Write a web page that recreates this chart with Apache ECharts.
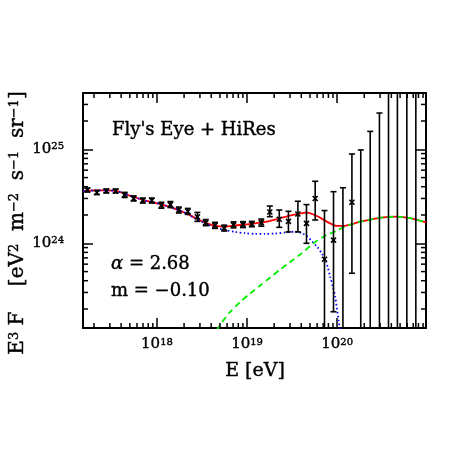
<!DOCTYPE html>
<html><head><meta charset="utf-8">
<script src="https://cdn.jsdelivr.net/npm/echarts@6/dist/echarts.min.js"></script>
<style>html,body{margin:0;padding:0;background:#fff}#c{width:452px;height:452px}</style>
</head><body><div id="c"></div>
<script>
// ---- data points (Fly's Eye + HiRes), E in eV, E^3 F in eV^2 m^-2 s^-1 sr^-1 ----
const energy = [1.69e17, 2.15e17, 2.74e17, 3.48e17, 4.38e17, 5.51e17, 6.97e17, 8.77e17, 1.12e18, 1.41e18,
  1.75e18, 2.20e18, 2.81e18, 3.48e18, 4.41e18, 5.58e18, 7.08e18, 9.02e18, 1.13e19, 1.44e19,
  1.79e19, 2.28e19, 2.88e19, 3.67e19, 4.57e19, 5.71e19, 7.24e19, 9.12e19, 1.16e20, 1.46e20,
  1.83e20, 2.33e20, 2.95e20, 3.72e20, 4.67e20, 5.94e20, 7.48e20];
const flux = [3.69e24, 3.47e24, 3.60e24, 3.60e24, 3.27e24, 3.00e24, 2.85e24, 2.85e24, 2.54e24, 2.58e24,
  2.26e24, 2.18e24, 1.91e24, 1.66e24, 1.55e24, 1.45e24, 1.57e24, 1.58e24, 1.60e24, 1.66e24,
  2.15e24, 1.80e24, 1.71e24, 2.05e24, 1.63e24, 3.00e24, 6.76e23, 1.08e24, null, 2.73e24,
  null, null, null, null, null, null, null];
const fluxLow = [3.51e24, 3.30e24, 3.43e24, 3.43e24, 3.07e24, 2.82e24, 2.68e24, 2.68e24, 2.36e24, 2.40e24,
  2.10e24, 2.03e24, 1.71e24, 1.54e24, 1.44e24, 1.35e24, 1.46e24, 1.47e24, 1.50e24, 1.52e24,
  1.92e24, 1.48e24, 1.32e24, 1.32e24, 1.00e24, 1.77e24, 1.0e23, 1.87e23, 1.0e23, 4.80e23,
  1.0e23, 1.0e23, 1.0e23, 1.0e23, 1.0e23, 1.0e23, 1.0e23];
const fluxHigh = [3.87e24, 3.64e24, 3.78e24, 3.78e24, 3.48e24, 3.19e24, 3.03e24, 3.03e24, 2.73e24, 2.78e24,
  2.43e24, 2.35e24, 2.13e24, 1.79e24, 1.67e24, 1.56e24, 1.69e24, 1.70e24, 1.71e24, 1.81e24,
  2.49e24, 2.26e24, 2.19e24, 2.80e24, 2.58e24, 4.57e24, 2.23e24, 3.54e24, 3.90e24, 8.91e24,
  9.84e24, 1.55e25, 2.43e25, 1.0e26, 1.0e26, 1.0e26, 1.0e26];

// ---- model curves ----
const totalE = [1.52e17, 2.07e17, 2.67e17, 3.45e17, 4.46e17, 5.75e17, 7.43e17, 9.59e17, 1.24e18, 1.60e18,
  2.07e18, 2.66e18, 3.44e18, 4.44e18, 5.73e18, 7.40e18, 9.55e18, 1.23e19, 1.59e19, 2.06e19,
  2.65e19, 3.58e19, 4.61e19, 5.96e19, 7.69e19, 9.93e19, 1.17e20, 1.40e20, 1.80e20, 2.33e20,
  3.27e20, 4.60e20, 6.46e20, 9.73e20];
const totalF = [3.60e24, 3.65e24, 3.65e24, 3.63e24, 3.34e24, 3.07e24, 2.85e24, 2.69e24, 2.52e24, 2.32e24,
  2.10e24, 1.86e24, 1.66e24, 1.53e24, 1.50e24, 1.55e24, 1.58e24, 1.63e24, 1.69e24, 1.79e24,
  1.91e24, 2.04e24, 2.12e24, 1.95e24, 1.70e24, 1.53e24, 1.53e24, 1.58e24, 1.70e24, 1.79e24,
  1.89e24, 1.92e24, 1.85e24, 1.67e24];
const galE = [1.52e17, 2.07e17, 2.67e17, 3.45e17, 4.46e17, 5.75e17, 7.43e17, 9.59e17, 1.24e18, 1.60e18,
  2.07e18, 2.66e18, 3.44e18, 4.44e18, 5.73e18, 7.40e18, 9.55e18, 1.23e19, 1.59e19, 2.06e19,
  2.65e19, 3.43e19, 4.09e19, 4.66e19, 5.28e19, 6.01e19, 6.82e19, 7.57e19, 8.38e19, 9.04e19,
  9.53e19, 1.035e20, 1.08e20];
const galF = [3.60e24, 3.65e24, 3.65e24, 3.63e24, 3.34e24, 3.07e24, 2.85e24, 2.69e24, 2.52e24, 2.32e24,
  2.10e24, 1.84e24, 1.62e24, 1.47e24, 1.38e24, 1.32e24, 1.28e24, 1.26e24, 1.26e24, 1.27e24,
  1.30e24, 1.33e24, 1.28e24, 1.18e24, 1.045e24, 9.14e23, 7.69e23, 6.32e23, 4.41e23, 3.35e23,
  2.70e23, 1.53e23, 1.19e23];
const egE = [4.61e18, 5.31e18, 6.50e18, 8.41e18, 1.085e19, 1.40e19, 1.81e19, 2.33e19, 3.01e19, 3.89e19,
  5.47e19, 7.06e19, 9.93e19, 1.17e20, 1.40e20, 1.80e20, 2.33e20, 3.27e20, 4.60e20, 6.46e20, 9.73e20];
const egF = [1.19e23, 1.46e23, 1.86e23, 2.38e23, 2.93e23, 3.56e23, 4.33e23, 5.26e23, 6.32e23, 7.60e23,
  1.00e24, 1.175e24, 1.36e24, 1.48e24, 1.58e24, 1.70e24, 1.79e24, 1.89e24, 1.92e24, 1.85e24, 1.67e24];

// ---- ticks ----
const xMajorTicks = [1e18, 1e19, 1e20];
const xTickExponents = ['18', '19', '20'];
const yMajorTicks = [1e24, 1e25];
const yTickExponents = ['24', '25'];
const xMinorTicks = [2e17, 3e17, 4e17, 5e17, 6e17, 7e17, 8e17, 9e17,
  2e18, 3e18, 4e18, 5e18, 6e18, 7e18, 8e18, 9e18,
  2e19, 3e19, 4e19, 5e19, 6e19, 7e19, 8e19, 9e19,
  2e20, 3e20, 4e20, 5e20, 6e20, 7e20, 8e20, 9e20];
const yMinorTicks = [2e23, 3e23, 4e23, 5e23, 6e23, 7e23, 8e23, 9e23,
  2e24, 3e24, 4e24, 5e24, 6e24, 7e24, 8e24, 9e24, 2e25, 3e25];

const X_MIN = 1.51e17, X_MAX = 9.70e20, Y_MIN = 1.256e23, Y_MAX = 3.97e25;
const FONT = 'DejaVu Serif';
const INK = { textBorderColor: '#000', textBorderWidth: 0.4 };   // for axis labels
const GINK = { stroke: '#000', lineWidth: 0.4 };                  // for graphic texts

function majorFmt(ticks, exps) {
  return function (v) {
    const i = ticks.findIndex(t => Math.abs(t - v) / t < 1e-6);
    return i < 0 ? '' : '{b|10}{s|' + exps[i] + '}';
  };
}
const labelRich = {
  b: Object.assign({ fontFamily: FONT, fontSize: 15, color: '#000' }, INK),
  s: Object.assign({ fontFamily: FONT, fontSize: 10, color: '#000', verticalAlign: 'top' }, INK)
};
function axisBase(extra) {
  return Object.assign({
    type: 'log', logBase: 10,
    axisLine: { show: true, onZero: false, lineStyle: { color: '#000', width: 2 } },
    axisTick: { show: true, inside: true, length: 10, lineStyle: { color: '#000', width: 1.5 } },
    minorTick: { show: false },
    splitLine: { show: false },
    minorSplitLine: { show: false }
  }, extra);
}

const chart = echarts.init(document.getElementById('c'), null, { renderer: 'canvas' });

const errData = energy.map((e, i) => [e, fluxLow[i], fluxHigh[i]]);
const ptData = energy.map((e, i) => [e, flux[i]]).filter(d => d[1] !== null);

chart.setOption({
  animation: false,
  backgroundColor: '#fff',
  grid: { left: 83, right: 26, top: 93, bottom: 124, containLabel: false, outerBoundsMode: 'none' },
  xAxis: [
    axisBase({ position: 'bottom', min: X_MIN, max: X_MAX,
      axisLabel: { show: true, margin: 9, formatter: majorFmt(xMajorTicks, xTickExponents), rich: labelRich, showMinLabel: false, showMaxLabel: false } }),
    axisBase({ position: 'top', min: X_MIN, max: X_MAX, axisLabel: { show: false } })
  ],
  yAxis: [
    axisBase({ position: 'left', min: Y_MIN, max: Y_MAX,
      axisLabel: { show: true, margin: 19, formatter: majorFmt(yMajorTicks, yTickExponents), rich: labelRich, showMinLabel: false, showMaxLabel: false } }),
    axisBase({ position: 'right', min: Y_MIN, max: Y_MAX, axisLabel: { show: false } })
  ],
  graphic: [
    { type: 'text', x: 112, y: 130, silent: true,
      style: Object.assign({ text: "Fly's Eye + HiRes", font: '18px "DejaVu Serif"', fill: '#000', verticalAlign: 'middle' }, GINK) },
    { type: 'text', x: 111, y: 264, silent: true,
      style: { text: '{g|α}{t| = 2.68}', verticalAlign: 'middle', rich: {
        g: Object.assign({ fontFamily: FONT, fontSize: 18, fontStyle: 'italic', fill: '#000' }, GINK),
        t: Object.assign({ fontFamily: FONT, fontSize: 18, fill: '#000' }, GINK) } } },
    { type: 'text', x: 111, y: 291, silent: true,
      style: Object.assign({ text: 'm = −0.10', font: '18px "DejaVu Serif"', fill: '#000', verticalAlign: 'middle' }, GINK) },
    { type: 'text', x: 18, y: 223, rotation: Math.PI / 2, silent: true,
      style: { text: '{n|E}{s|3}{n| F    [eV}{s|2}{n|  m}{s|−2}{n|  s}{s|−1}{n|  sr}{s|−1}{n|]}',
        align: 'center', verticalAlign: 'middle',
        rich: {
          n: Object.assign({ fontFamily: FONT, fontSize: 20, fill: '#000' }, GINK),
          s: Object.assign({ fontFamily: FONT, fontSize: 13, fill: '#000', verticalAlign: 'top' }, GINK) } } },
    { type: 'text', x: 255, y: 371, silent: true,
      style: Object.assign({ text: 'E [eV]', font: '19px "DejaVu Serif"', fill: '#000', align: 'center', verticalAlign: 'middle' }, GINK) }
  ],
  series: [
    { type: 'line', name: 'total', data: totalE.map((e, i) => [e, totalF[i]]), showSymbol: false, symbol: 'none',
      smooth: 0.25, clip: true, lineStyle: { color: '#ff0000', width: 1.8 }, z: 2 },
    { type: 'line', name: 'galactic', data: galE.map((e, i) => [e, galF[i]]), showSymbol: false, symbol: 'none',
      smooth: 0.25, clip: true, lineStyle: { color: '#0000ff', width: 1.8, type: [1.5, 2.5] }, z: 3 },
    { type: 'line', name: 'extragalactic', data: egE.map((e, i) => [e, egF[i]]), showSymbol: false, symbol: 'none',
      smooth: 0.25, clip: true, lineStyle: { color: '#00ee00', width: 1.8, type: [6, 4] }, z: 4 },
    { type: 'custom', name: 'errors', data: errData, clip: true, z: 5,
      renderItem: function (params, api) {
        const lo = api.coord([api.value(0), api.value(1)]);
        const hi = api.coord([api.value(0), api.value(2)]);
        const cw = 3, st = { stroke: '#000', lineWidth: 1.6 };
        return { type: 'group', children: [
          { type: 'line', shape: { x1: lo[0], y1: lo[1], x2: hi[0], y2: hi[1] }, style: st },
          { type: 'line', shape: { x1: lo[0] - cw, y1: lo[1], x2: lo[0] + cw, y2: lo[1] }, style: st },
          { type: 'line', shape: { x1: hi[0] - cw, y1: hi[1], x2: hi[0] + cw, y2: hi[1] }, style: st }
        ] };
      } },
    { type: 'custom', name: 'points', data: ptData, clip: true, z: 6,
      renderItem: function (params, api) {
        const p = api.coord([api.value(0), api.value(1)]);
        const r = 2.5, st = { stroke: '#000', lineWidth: 1.6 };
        return { type: 'group', children: [
          { type: 'line', shape: { x1: p[0] - r, y1: p[1] - r, x2: p[0] + r, y2: p[1] + r }, style: st },
          { type: 'line', shape: { x1: p[0] - r, y1: p[1] + r, x2: p[0] + r, y2: p[1] - r }, style: st }
        ] };
      } },
    { type: 'custom', name: 'xMinor', data: xMinorTicks.map(v => [v, Y_MIN]), clip: false, z: 7, silent: true,
      renderItem: function (params, api) {
        const px = api.coord([api.value(0), Y_MIN])[0];
        const cs = params.coordSys, st = { stroke: '#000', lineWidth: 1.5 };
        return { type: 'group', children: [
          { type: 'line', shape: { x1: px, y1: cs.y + cs.height, x2: px, y2: cs.y + cs.height - 5 }, style: st },
          { type: 'line', shape: { x1: px, y1: cs.y, x2: px, y2: cs.y + 5 }, style: st }
        ] };
      } },
    { type: 'custom', name: 'yMinor', data: yMinorTicks.map(v => [X_MIN, v]), clip: false, z: 7, silent: true,
      renderItem: function (params, api) {
        const py = api.coord([X_MIN, api.value(1)])[1];
        const cs = params.coordSys, st = { stroke: '#000', lineWidth: 1.5 };
        return { type: 'group', children: [
          { type: 'line', shape: { x1: cs.x, y1: py, x2: cs.x + 5, y2: py }, style: st },
          { type: 'line', shape: { x1: cs.x + cs.width, y1: py, x2: cs.x + cs.width - 5, y2: py }, style: st }
        ] };
      } }
  ]
});
</script></body></html>
